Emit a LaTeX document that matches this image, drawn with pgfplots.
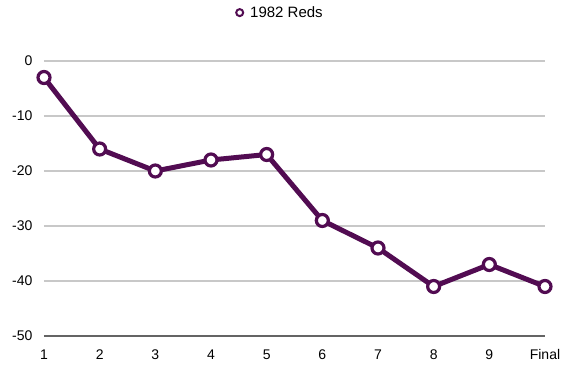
\documentclass[border=0pt]{standalone}
\usepackage{pgfplots}
\pgfplotsset{compat=1.18}
\usepackage{fontspec}
\setmainfont{Liberation Sans}
\definecolor{reds}{RGB}{82,12,82}
\definecolor{gridc}{RGB}{200,200,200}
\definecolor{axc}{RGB}{100,100,100}
\pgfplotstableread{
x y
0 -3
1 -16
2 -20
3 -18
4 -17
5 -29
6 -34
7 -41
8 -37
9 -41
}\reds
\begin{document}
\begin{tikzpicture}[x=1pt,y=1pt]
\begin{axis}[
  at={(0,0)}, anchor=south west,
  scale only axis, width=501pt, height=275pt,
  xmin=0, xmax=9, ymin=-50, ymax=0,
  xtick={0,...,9}, xticklabels={1,2,3,4,5,6,7,8,9,Final},
  ytick={-50,-40,-30,-20,-10,0},
  ymajorgrids, major grid style={gridc, line width=1.2pt},
  axis x line*=bottom, axis y line*=left,
  y axis line style={draw=none},
  x axis line style={axc, line width=1.5pt, -},
  xtick style={draw=none},
  ytick style={draw=none},
  tick label style={font=\fontsize{14}{16}\selectfont},
  /pgf/number format/assume math mode=true,
  yticklabel style={anchor=east, xshift=-8pt},
  xticklabel style={yshift=-10pt},
  clip=false,
  legend style={at={(0.475,1)}, anchor=south, yshift=38pt, draw=none, fill=none, font=\fontsize{15}{17}\selectfont,
    /tikz/every even column/.append style={column sep=0pt}},
  legend image code/.code={\node[circle, draw=reds, line width=2pt, minimum size=7pt, inner sep=0pt, fill=white] at (0.05cm,0cm) {};},
  legend style={nodes={inner xsep=6pt}},
]
\addplot[draw=reds, line width=5pt, line join=round, no markers, forget plot] table[x=x,y=y] {\reds};
\addplot[only marks, mark=*, mark size=6pt,
  mark options={fill=white, draw=reds, line width=3.2pt}] table[x=x,y=y] {\reds};
\addlegendentry{1982 Reds}
\end{axis}
\path (-44pt,-33pt) rectangle ++(568pt,369pt);
\end{tikzpicture}
\end{document}
